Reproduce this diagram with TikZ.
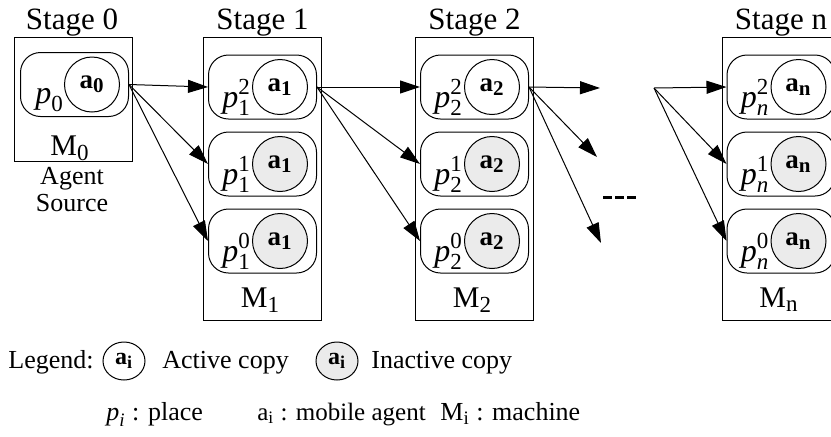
\documentclass[tikz,border=0pt]{standalone}
\usepackage{amsmath}
\usepackage{fontspec}
\setmainfont{Liberation Serif}
\usetikzlibrary{arrows.meta,positioning,shapes.geometric}
\definecolor{idlegray}{gray}{0.92}
\DeclareMathSizes{16}{16}{11.5}{9}
\DeclareMathSizes{15}{15}{11.5}{9}
\DeclareMathSizes{13.5}{13.5}{10.5}{8}
\DeclareMathSizes{13}{13}{9.5}{8}
\DeclareMathSizes{12}{12}{9}{7}
\tikzset{
  machine/.style={draw,line width=0.5pt,minimum width=59pt,inner sep=0pt},
  place/.style={draw,line width=0.5pt,rounded corners=10pt,
    minimum width=54pt,minimum height=32pt,inner sep=0pt},
  agent/.style={draw,circle,line width=0.5pt,minimum size=27.5pt,inner sep=0pt,
    font=\fontsize{13.5}{16}\selectfont},
  idle/.style={agent,fill=idlegray},
  legagent/.style={draw,ellipse,line width=0.5pt,minimum width=21pt,
    minimum height=19pt,inner sep=0pt,font=\fontsize{12}{14}\selectfont},
  hop/.style={-{Triangle[length=10pt,width=6.5pt]},line width=0.5pt},
  plabel/.style={anchor=base west,inner sep=0pt,font=\fontsize{16}{18}\selectfont},
  title/.style={anchor=base,inner sep=0pt,font=\fontsize{15.5}{18}\selectfont},
  mlabel/.style={anchor=base,inner sep=0pt,font=\fontsize{15}{17}\selectfont},
  legend/.style={anchor=base west,inner sep=0pt,font=\fontsize{13}{15}\selectfont}
}
\newcommand{\plc}[2]{$\textit{p}^{\text{#2}}_{#1}$}
\newcommand{\agt}[1]{$\textbf{a}_{\textbf{#1}}$}

\begin{document}
\begin{tikzpicture}[x=0.5pt,y=-0.5pt]
  \useasboundingbox (0,0) rectangle (831,436);

  % stage 0: agent source
  \node[machine,minimum height=62pt] (m0) at (73,99) {};
  \node[title] (t0) at (72,29) {Stage 0};
  \node[place] (p0) at (74.5,84.5) {};
  \node[agent] (a0) at ([xshift=-18.5pt]p0.east) {\agt{0}};
  \node[plabel] (l0) at ([xshift=7.5pt,yshift=-9.5pt]p0.west) {$\textit{p}_{\text{0}}$};
  \node[mlabel] (n0) at (70,155) {M$_{\text{0}}$};
  \node[align=center,anchor=north,inner sep=0pt,
    font=\fontsize{13}{13.5}\selectfont] (src) at (72,167) {Agent\\Source};

  % stages 1, 2 and n
  \foreach \s/\x/\sub in {1/262.5/\text{1},2/474.5/\text{2},n/781/\textit{n}} {
    \node[machine,minimum height=141.5pt] (m\s) at (\x,178.5) {};
    \node[title] (t\s) at (\x,29) {Stage \s};
    \node[mlabel] (n\s) at ([xshift=-1pt]\x,307) {M$_{\text{\s}}$};
    \foreach \k/\y in {2/87,1/164,0/241} {
      \node[place] (p\s\k) at (\x,\y) {};
      \node[plabel] (l\s\k) at ([xshift=7pt,yshift=-10pt]p\s\k.west) {\plc{\sub}{\k}};
    }
    \node[agent] (a\s2) at ([xshift=-18.5pt]p\s2.east) {\agt{\s}};
    \node[idle] (a\s1) at ([xshift=-18.5pt]p\s1.east) {\agt{\s}};
    \node[idle] (a\s0) at ([xshift=-18.5pt]p\s0.east) {\agt{\s}};
  }

  % migrations between stages
  \foreach \k in {2,1,0} {
    \draw[hop] (p0.east) -- (p1\k.west);
    \draw[hop] (p12.east) -- (p2\k.west);
  }
  \coordinate (o2) at (600,88);
  \coordinate (o1) at (597,157);
  \coordinate (o0) at (601,243);
  \coordinate (in) at (654,88);
  \foreach \k in {2,1,0} {
    \draw[hop] (p22.east) -- (o\k);
    \draw[hop] (in) -- (pn\k.west);
  }
  \draw[line width=1.5pt,dash pattern=on 4.5pt off 1.5pt] (603,197) -- (637,197);

  % legend
  \node[legend] (leg) at (8,368) {Legend:};
  \node[legagent] (la) at (124,361) {$\textbf{a}_{\textbf{i}}$};
  \node[legend] (lat) at (162,368) {Active copy};
  \node[legagent,fill=idlegray] (li) at (337,361) {$\textbf{a}_{\textbf{i}}$};
  \node[legend] (lit) at (371,368) {Inactive copy};
  \node[legend] (kp) at (106,420) {$\textit{p}_{\textit{i}}$ : place};
  \node[legend,font=\fontsize{12.5}{14}\selectfont] (ka) at (257,420) {a$_{\text{i}}$ : mobile agent};
  \node[legend] (km) at (440,420) {M$_{\text{i}}$ : machine};
\end{tikzpicture}
\end{document}
